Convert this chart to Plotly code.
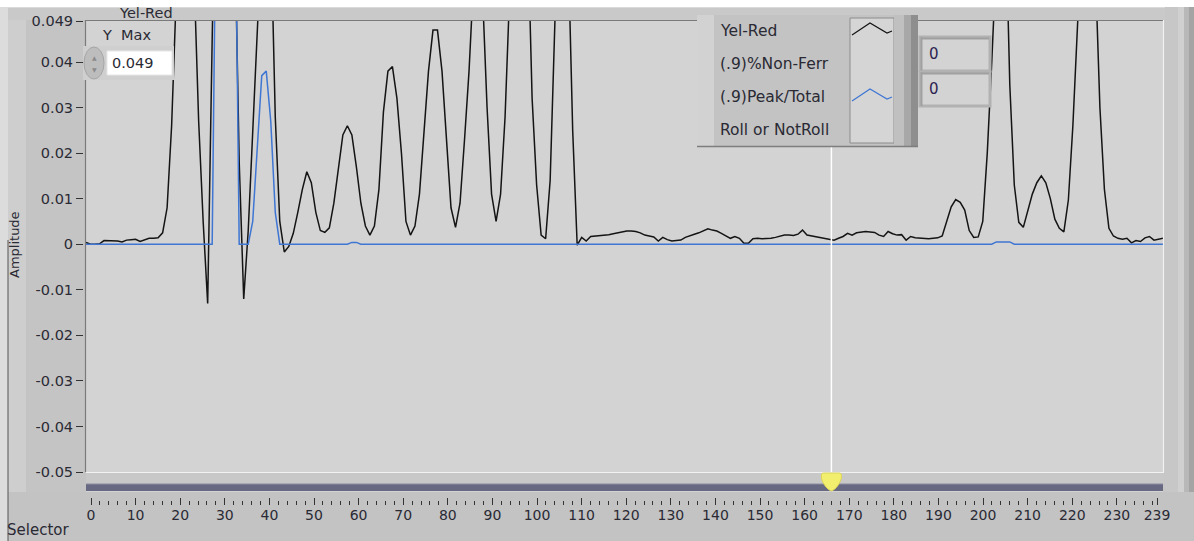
import plotly.graph_objects as go

# ---------------- data ----------------
sample_index = list(range(240))

yel_red = [
    0.0004, 0.0, 0.0, 0.0001, 0.0008, 0.0008, 0.0008, 0.0007, 0.0005, 0.0009,
    0.001, 0.0011, 0.0006, 0.001, 0.0013, 0.0013, 0.0014, 0.0025, 0.008, 0.026,
    0.06, 0.1, 0.11, 0.09, 0.06, 0.027, 0.005, -0.013, 0.045, 0.12,
    0.15, 0.14, 0.11, 0.07, 0.018, -0.012, 0.003, 0.027, 0.055, 0.08,
    0.09, 0.07, 0.028, 0.005, -0.0017, -0.0005, 0.0024, 0.007, 0.012, 0.0159,
    0.0135, 0.007, 0.003, 0.0026, 0.0036, 0.009, 0.017, 0.024, 0.026, 0.024,
    0.017, 0.009, 0.004, 0.002, 0.004, 0.012, 0.029, 0.038, 0.039, 0.032,
    0.02, 0.005, 0.002, 0.004, 0.011, 0.024, 0.038, 0.047, 0.047, 0.038,
    0.023, 0.008, 0.0037, 0.009, 0.023, 0.038, 0.058, 0.065, 0.055, 0.03,
    0.011, 0.005, 0.011, 0.028, 0.055, 0.08, 0.1, 0.09, 0.07, 0.032,
    0.013, 0.002, 0.0012, 0.014, 0.05, 0.08, 0.09, 0.065, 0.025, -0.0002,
    0.0015, 0.0007, 0.0017, 0.0018, 0.0018, 0.002, 0.0021, 0.0023, 0.0025, 0.0027,
    0.0029, 0.0029, 0.0028, 0.0025, 0.002, 0.0018, 0.0016, 0.0007, 0.0015, 0.001,
    0.0007, 0.0008, 0.0009, 0.0015, 0.0019, 0.0022, 0.0025, 0.003, 0.0034, 0.0031,
    0.0029, 0.0024, 0.0019, 0.0013, 0.0017, 0.0013, 0.0002, 0.0002, 0.0012, 0.0013,
    0.0012, 0.0012, 0.0013, 0.0015, 0.0018, 0.002, 0.002, 0.0019, 0.0022, 0.0031,
    0.002, 0.0018, 0.0016, 0.0014, 0.0013, 0.0011, 0.0009, 0.0013, 0.0017, 0.0024,
    0.002, 0.0025, 0.0027, 0.0028, 0.0027, 0.0026, 0.002, 0.0017, 0.0028, 0.0023,
    0.002, 0.0021, 0.0009, 0.0017, 0.0014, 0.0013, 0.0012, 0.0012, 0.0013, 0.0014,
    0.0018, 0.005, 0.0082, 0.0098, 0.0092, 0.0075, 0.003, 0.0015, 0.0016, 0.005,
    0.02, 0.04, 0.065, 0.085, 0.075, 0.035, 0.013, 0.0048, 0.0037, 0.0075,
    0.011, 0.0135, 0.015, 0.0135, 0.01, 0.0055, 0.0035, 0.0027, 0.0097, 0.026,
    0.045, 0.07, 0.09, 0.085, 0.06, 0.03, 0.012, 0.0035, 0.0018, 0.0013,
    0.0011, 0.0013, 0.0003, 0.0008, 0.0006, 0.0014, 0.0017, 0.0009, 0.0011, 0.0013,
]

peak_total = [
    0, 0, 0, 0, 0, 0, 0, 0, 0, 0,
    0, 0, 0, 0, 0, 0, 0, 0, 0, 0,
    0, 0, 0, 0, 0, 0, 0, 0, 0, 0.09,
    0.12, 0.13, 0.12, 0.088, 0, 0, 0, 0.005, 0.022, 0.037,
    0.038, 0.027, 0.007, 0, 0, 0, 0, 0, 0, 0,
    0, 0, 0, 0, 0, 0, 0, 0, 0, 0.0004,
    0.0004, 0, 0, 0, 0, 0, 0, 0, 0, 0,
] + [0] * 132 + [0.0005, 0.0005, 0.0005, 0.0005] + [0] * 34

legend_names = ["Yel-Red", "(.9)%Non-Ferr", "(.9)Peak/Total", "Roll or NotRoll"]
indicator_values = ["0", "0"]
y_tick_vals = [0.049, 0.04, 0.03, 0.02, 0.01, 0, -0.01, -0.02, -0.03, -0.04, -0.05]
y_tick_text = ["0.049", "0.04", "0.03", "0.02", "0.01", "0", "-0.01", "-0.02", "-0.03", "-0.04", "-0.05"]
y_min, y_max = -0.05, 0.049
sel_major = list(range(0, 231, 10)) + [239]
sel_minor = [v for v in range(2, 239, 2) if v % 10 != 0]
selector_value = 166

# ---------------- geometry helpers ----------------
W, H = 1194, 541
def px(x):
    return x / W
def py(y):
    return 1 - y / H

FONT = "DejaVu Sans"
TXT = "#2a2a34"

fig = go.Figure()
fig.add_trace(go.Scatter(x=sample_index, y=yel_red, mode="lines",
                         line=dict(color="#141414", width=1.5),
                         xaxis="x", yaxis="y", showlegend=False, hoverinfo="skip"))
fig.add_trace(go.Scatter(x=sample_index, y=peak_total, mode="lines",
                         line=dict(color="#3f76d3", width=1.5),
                         xaxis="x", yaxis="y", showlegend=False, hoverinfo="skip"))
fig.add_trace(go.Scatter(x=[selector_value], y=[0.5], mode="markers",
                         marker=dict(opacity=0), xaxis="x2", yaxis="y2",
                         showlegend=False, hoverinfo="skip"))

shapes = []
def rect(x0, y0, x1, y1, fill, line=None, lw=0, layer="above"):
    shapes.append(dict(type="rect", xref="paper", yref="paper",
                       x0=px(x0), x1=px(x1), y0=py(y1), y1=py(y0),
                       fillcolor=fill, line=dict(color=line or fill, width=lw),
                       layer=layer))
def hline(x0, x1, y, color, w=1):
    shapes.append(dict(type="line", xref="paper", yref="paper",
                       x0=px(x0), x1=px(x1), y0=py(y), y1=py(y),
                       line=dict(color=color, width=w)))
def vline(x, y0, y1, color, w=1):
    shapes.append(dict(type="line", xref="paper", yref="paper",
                       x0=px(x), x1=px(x), y0=py(y0), y1=py(y1),
                       line=dict(color=color, width=w)))

# window / frame decorations
rect(0, 0, W, 7, "#ffffff", layer="below")
rect(0, 7, 8, H, "#dcdcdc", layer="below")
rect(8, 7, 26, 492, "#cecece", layer="below")
rect(26, 20, 86, 492, "#c4c4c4", layer="below")
rect(8, 7, 1165, 20, "#c9c9c9", layer="below")
rect(8, 492, W, H, "#c3c3c3", layer="below")
vline(8, 240, H, "#555555", 1)
rect(1165, 7, 1178, 492, "#c7c7c7", layer="below")
rect(1178, 7, 1184, 492, "#d0d0d0", layer="below")
rect(1184, 7, 1189, 492, "#b8b8b8", layer="below")
rect(1189, 7, W, 492, "#a4a4a4", layer="below")
hline(8, 1165, 7.5, "#dadada", 1)
# recessed plot border
hline(86, 1163, 20.5, "#7a7a7a", 1.2)
vline(85.5, 20, 472, "#7a7a7a", 1.2)
hline(86, 1164, 472.5, "#f2f2f2", 1.2)
vline(1163.5, 20, 473, "#f2f2f2", 1.2)
# slider strip + track
rect(86, 473, 1164, 484, "#c8c8c8", layer="below")
rect(86, 484, 1163, 491, "#676882", layer="below")
hline(86, 1163, 484, "#8b8ca0", 1)

# cursor line
shapes.append(dict(type="line", xref="x2", yref="paper", x0=selector_value, x1=selector_value,
                   y0=py(472), y1=py(21), line=dict(color="#ffffff", width=1.5)))
# slider thumb (pixel-sized path anchored at the selector value)
shapes.append(dict(type="path", xref="x2", xsizemode="pixel", xanchor=selector_value,
                   yref="paper", ysizemode="pixel", yanchor=py(491),
                   path="M 0,0 C -4,1 -9,8 -10,13 L -10,16 Q -10,18 -8,18 L 8,18 Q 10,18 10,16 L 10,13 C 9,8 4,1 0,0 Z",
                   fillcolor="#f3ef6e", line=dict(color="#dcd35a", width=1)))

# Y Max control
rect(83, 46, 174, 80, "#cfcfcf")
rect(107, 51, 172, 75, "#ffffff", "#e6e6e6", 1)
shapes.append(dict(type="circle", xref="paper", yref="paper",
                   x0=px(84), x1=px(104), y0=py(79), y1=py(47),
                   fillcolor="#bdbdbd", line=dict(color="#a6a6a6", width=1)))

# legend panel
rect(697, 15, 918, 147, "#c3c3c3")
rect(697, 15, 714, 147, "#d2d2d2")
rect(850, 18, 894, 143, "#d5d5d5", "#8c8c8c", 1)
rect(894, 15, 904, 147, "#c0c0c0")
rect(904, 15, 911, 147, "#a8a8a8")
rect(911, 15, 918, 147, "#8e8e8e")
hline(697, 918, 146.5, "#7e7e7e", 1.5)
# legend swatches
def swatch(yc, color):
    pts = [(852, yc + 4), (870, yc - 8), (887, yc + 2), (892, yc)]
    path = "M " + " L ".join(f"{px(a)},{py(b)}" for a, b in pts)
    shapes.append(dict(type="path", xref="paper", yref="paper", path=path,
                       line=dict(color=color, width=1.2)))
swatch(31, "#141414")
swatch(97, "#3f76d3")

# numeric indicators
for y0 in (37, 72):
    rect(920, y0, 990, y0 + 34, "#d3d3d3", "#b2b2b2", 3)
    hline(921, 989, y0 + 1.5, "#a0a0a0", 2)
    vline(921.5, y0, y0 + 34, "#a0a0a0", 2)

annotations = []
def text(x, y, s, size=14, anchor="left", color=TXT, angle=0):
    annotations.append(dict(xref="paper", yref="paper", x=px(x), y=py(y), text=s,
                            showarrow=False, xanchor=anchor, yanchor="middle",
                            textangle=angle, font=dict(family=FONT, size=size, color=color)))

text(146, 13, "Yel-Red", size=14.5, anchor="center")
text(126, 35, "Y  Max", size=14.5, anchor="center")
text(110, 63, "0.049", size=14.5)
text(94, 57, "▲", size=6, anchor="center", color="#8a8a8a")
text(94, 69, "▼", size=6, anchor="center", color="#8a8a8a")
text(15, 245, "Amplitude", size=13, anchor="center", angle=-90)
text(38, 530, "Selector", size=15, anchor="center")
for i, name in enumerate(legend_names):
    text(718, 31 + 33 * i, name, size=15.5)
for i, v in enumerate(indicator_values):
    text(927, 54 + 35 * i, v, size=15, color="#2c2450")

fig.update_layout(
    width=W, height=H, autosize=False,
    margin=dict(l=0, r=0, t=0, b=0, pad=0, autoexpand=False),
    paper_bgcolor="#c6c6c6", plot_bgcolor="#d3d3d3",
    font=dict(family=FONT, size=14, color=TXT),
    xaxis=dict(domain=[px(86), px(1163)], range=[0, 239], visible=False,
               anchor="y", fixedrange=True, automargin=False),
    yaxis=dict(domain=[py(472), py(21)], range=[y_min, y_max], anchor="free",
               position=px(83), tickvals=y_tick_vals, ticktext=y_tick_text,
               ticks="outside", ticklen=7, tickcolor="#333333", tickwidth=1,
               showgrid=False, zeroline=False, showline=False, fixedrange=True,
               automargin=False,
               tickfont=dict(family=FONT, size=14.5, color=TXT)),
    xaxis2=dict(domain=[px(86), px(1163)], range=[-5 / 4.46, 239 + 6 / 4.46],
                anchor="y2", tickvals=sel_major, ticktext=[str(v) for v in sel_major],
                ticks="inside", ticklen=7, tickcolor="#333333", tickwidth=1.3,
                minor=dict(tickvals=sel_minor, ticks="inside", ticklen=4,
                           tickcolor="#333333", tickwidth=1),
                showgrid=False, zeroline=False, showline=False, fixedrange=True,
                automargin=False,
                tickfont=dict(family=FONT, size=14, color=TXT)),
    yaxis2=dict(domain=[py(505), py(472)], range=[0, 1], visible=False, anchor="x2",
                fixedrange=True, automargin=False),
    shapes=shapes, annotations=annotations,
)

post = ("var d=document.getElementById('{plot_id}');"
        "d.style.position='fixed';d.style.left='0px';d.style.top='0px';"
        "document.documentElement.style.margin='0';document.body.style.margin='0';"
        "document.documentElement.style.overflow='hidden';document.body.style.overflow='hidden';")
fig.write_html("out.html", config={"displayModeBar": False}, post_script=post)
